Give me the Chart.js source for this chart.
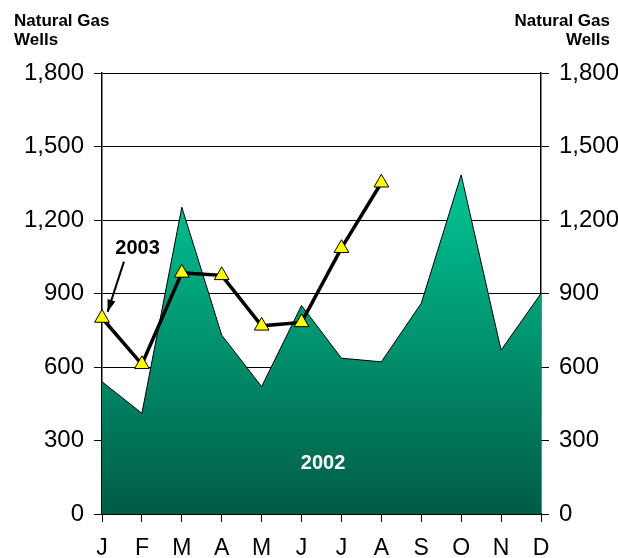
<!DOCTYPE html>
<html>
<head>
<meta charset="utf-8">
<script src="https://cdn.jsdelivr.net/npm/chart.js@4"></script>
<style>
  html, body { margin: 0; padding: 0; background: #fff; }
  canvas { display: block; }
</style>
</head>
<body>
<canvas id="wellsChart" width="618" height="558"></canvas>
<script>
const months = ['J', 'F', 'M', 'A', 'M', 'J', 'J', 'A', 'S', 'O', 'N', 'D'];
const wells2002 = [540, 411, 1252, 730, 520, 851, 636, 621, 860, 1384, 669, 900];
const wells2003 = [800, 611, 984, 974, 768, 782, 1085, 1352];
const yTicks = [0, 300, 600, 900, 1200, 1500, 1800];
const axisTitle = ['Natural Gas', 'Wells'];

const tickFont = { family: 'Liberation Sans, Arial, sans-serif', size: 24 };

// titles, labels and the arrow
const extras = {
  id: 'extras',
  afterDraw(chart) {
    const c = chart.ctx;
    const x = chart.scales.x;
    const y = chart.scales.y;
    c.save();
    c.fillStyle = '#000';
    c.font = 'bold 17px Liberation Sans, Arial, sans-serif';
    c.textBaseline = 'alphabetic';
    c.textAlign = 'left';
    c.fillText(axisTitle[0], 14, 26);
    c.fillText(axisTitle[1], 14, 45);
    c.textAlign = 'right';
    c.fillText(axisTitle[0], 610, 26);
    c.fillText(axisTitle[1], 610, 45);

    c.font = 'bold 20px Liberation Sans, Arial, sans-serif';
    c.textAlign = 'center';
    c.textBaseline = 'middle';
    c.fillText('2003', x.getPixelForValue(0.89), y.getPixelForValue(1085));
    c.fillStyle = '#fff';
    c.fillText('2002', x.getPixelForValue(5.54), y.getPixelForValue(205));

    // arrow
    const x1 = x.getPixelForValue(0.55), y1 = y.getPixelForValue(1030);
    const x2 = x.getPixelForValue(0.14), y2 = y.getPixelForValue(825);
    c.strokeStyle = '#000';
    c.fillStyle = '#000';
    c.lineWidth = 2;
    c.beginPath();
    c.moveTo(x1, y1);
    c.lineTo(x2, y2);
    c.stroke();
    const ang = Math.atan2(y2 - y1, x2 - x1);
    c.beginPath();
    c.moveTo(x2, y2);
    c.lineTo(x2 - 13 * Math.cos(ang - 0.32), y2 - 13 * Math.sin(ang - 0.32));
    c.lineTo(x2 - 13 * Math.cos(ang + 0.32), y2 - 13 * Math.sin(ang + 0.32));
    c.closePath();
    c.fill();
    c.restore();
  }
};

const ctx = document.getElementById('wellsChart').getContext('2d');

const areaFill = (context) => {
  const chart = context.chart;
  const area = chart.chartArea;
  if (!area) return '#009070';
  const g = chart.ctx.createLinearGradient(0, chart.scales.y.getPixelForValue(1400), 0, area.bottom);
  g.addColorStop(0, '#00C896');
  g.addColorStop(1, '#005C46');
  return g;
};

new Chart(ctx, {
  type: 'line',
  data: {
    labels: months,
    datasets: [
      {
        label: '2003',
        data: wells2003,
        borderColor: '#000',
        borderWidth: 3.5,
        pointStyle: 'triangle',
        pointRadius: 8.5,
        pointBackgroundColor: '#FFFF00',
        pointBorderColor: '#000',
        pointBorderWidth: 1,
        tension: 0,
        fill: false,
        order: 0
      },
      {
        label: '2002',
        data: wells2002,
        borderColor: '#000',
        borderWidth: 1,
        backgroundColor: areaFill,
        pointRadius: 0,
        tension: 0,
        fill: 'origin',
        order: 1
      }
    ]
  },
  options: {
    responsive: false,
    animation: false,
    layout: { padding: { top: 73, left: 0, right: 0, bottom: 0 } },
    plugins: {
      legend: { display: false },
      tooltip: { enabled: false }
    },
    scales: {
      x: {
        offset: false,
        afterFit: (s) => { s.height = 44; },
        grid: { drawOnChartArea: false, drawTicks: true, tickLength: 8, color: '#000', lineWidth: 1 },
        border: { color: '#000', width: 2 },
        ticks: { color: '#000', font: { family: tickFont.family, size: 23 }, padding: 13, maxRotation: 0, autoSkip: false }
      },
      y: {
        position: 'left',
        min: 0,
        max: 1800,
        afterFit: (s) => { s.width = 102; },
        afterBuildTicks: (s) => { s.ticks = yTicks.map(v => ({ value: v })); },
        grid: { color: '#000', lineWidth: 1, tickLength: 8 },
        border: { color: '#000', width: 1.5 },
        ticks: {
          color: '#000', font: tickFont, padding: 10,
          callback: (v) => v.toLocaleString('en-US')
        }
      },
      y2: {
        position: 'right',
        min: 0,
        max: 1800,
        afterFit: (s) => { s.width = 77; },
        afterBuildTicks: (s) => { s.ticks = yTicks.map(v => ({ value: v })); },
        grid: { drawOnChartArea: false, color: '#000', lineWidth: 1, tickLength: 8 },
        border: { color: '#000', width: 1.5 },
        ticks: {
          color: '#000', font: tickFont, padding: 10,
          callback: (v) => v.toLocaleString('en-US')
        }
      }
    }
  },
  plugins: [extras]
});
</script>
</body>
</html>
